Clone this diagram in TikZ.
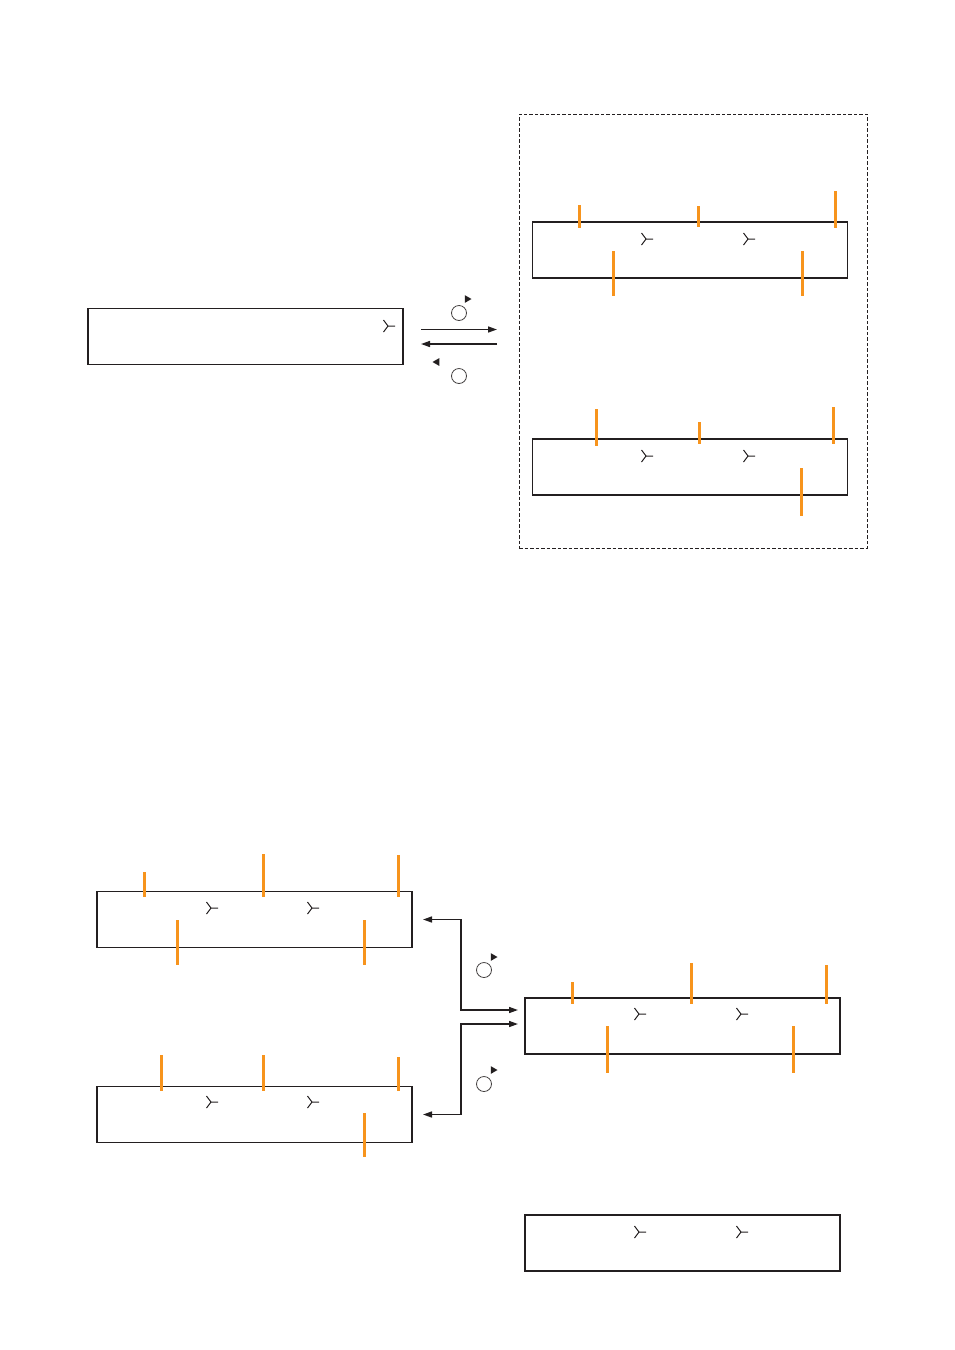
\documentclass[tikz,border=0pt]{standalone}
\usepackage{tikz}
\usetikzlibrary{arrows.meta, positioning, shapes.geometric}
\definecolor{markorange}{RGB}{247,148,29}
\definecolor{inkgray}{RGB}{35,31,32}

\tikzset{
  fork/.pic={
    \draw[inkgray, line width=1pt] (-4.5,-6) -- (0,0) -- (-4.5,6) (0,0) -- (7,0);
  }
}

\begin{document}
\begin{tikzpicture}[x=1pt, y=-1pt,
  panel/.style={
    rectangle, draw=inkgray, line width=1.2pt,
    minimum width=315pt, minimum height=56pt,
    inner sep=0pt, outer sep=0pt
  },
  dashbox/.style={
    rectangle, draw=inkgray, line width=0.7pt, dash pattern=on 3.5pt off 2pt,
    minimum width=348pt, minimum height=434pt, inner sep=0pt, outer sep=0pt
  },
  tick/.style={markorange, line width=3pt},
  ring/.style={circle, draw=inkgray!85, line width=0.8pt, minimum size=15pt, inner sep=0pt},
  tri/.style={regular polygon, regular polygon sides=3, fill=inkgray,
    minimum size=9pt, inner sep=0pt},
  link/.style={-{Triangle[length=9pt,width=6pt]}, line width=1.5pt, inkgray},
  dlink/.style={{Triangle[length=9pt,width=6pt]}-{Triangle[length=9pt,width=6pt]},
    line width=1.5pt, inkgray}
]
\useasboundingbox (0,0) rectangle (954,1350);

% upper half
\node[panel] (single) at (245.5,336.5) {};
\node[dashbox] (group) at (693,331) {};
\node[panel] (upA) at (690,250) {};
\node[panel, below=161pt of upA] (upB) {};

\draw[link] ([shift={(18pt,7pt)}]single.east) -- ([shift={(-22pt,1.5pt)}]group.west);
\draw[link] ([shift={(-22pt,-13pt)}]group.west) -- ([shift={(18pt,-7.5pt)}]single.east);

\node[ring] (ringfwd) at (459,313) {};
\node[tri, rotate=-90] (trifwd) at (467,299) {};
\node[ring] (ringback) at (459,376) {};
\node[tri, rotate=90] (triback) at (437,362) {};

% lower half
\node[panel] (lowC) at (254.5,919.5) {};
\node[panel, below=139pt of lowC] (lowD) {};
\node[panel] (lowE) at (682.5,1026) {};
\node[panel, below=161pt of lowE] (lowF) {};

\draw[dlink] ([xshift=11pt]lowC.east) -- ++(38,0) |- ([shift={(-7pt,16pt)}]lowE.west);
\draw[dlink] ([xshift=11pt]lowD.east) -- ++(38,0) |- ([shift={(-7pt,2pt)}]lowE.west);

\node[ring] (ringup) at (484,970) {};
\node[tri, rotate=-90] (triup) at (493,957) {};
\node[ring] (ringdown) at (484,1084) {};
\node[tri, rotate=-90] (tridown) at (493,1070) {};

% forks
\foreach \x/\y in {388/326, 646/239, 748/239, 646/456, 748/456,
                   211/908, 312/908, 211/1102, 312/1102,
                   639/1014, 741/1014, 639/1232, 741/1232}
  \pic at (\x,\y) {fork};

% orange marks
\foreach \x/\ya/\yb in {579/205/228, 698/206/227, 835/191/228, 613/251/296, 802/251/296,
                        596/409/446, 699/422/444, 833/407/444, 801/468/516,
                        144/872/897, 263/854/897, 398/855/897, 177/920/965, 364/920/965,
                        161/1055/1091, 263/1055/1091, 398/1057/1091, 364/1113/1157,
                        572/982/1004, 691/963/1004, 826/965/1004, 607/1026/1073, 793/1026/1073}
  \draw[tick] (\x,\ya) -- (\x,\yb);
\end{tikzpicture}
\end{document}
